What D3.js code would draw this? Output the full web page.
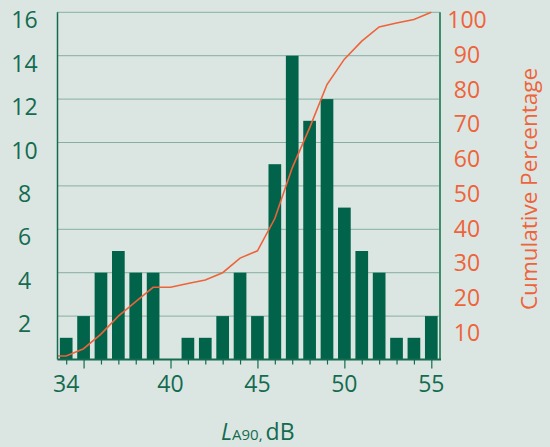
<!DOCTYPE html>
<html>
<head>
<meta charset="utf-8">
<script src="https://cdn.jsdelivr.net/npm/d3@7/dist/d3.min.js"></script>
<style>
  html, body { margin: 0; padding: 0; background: #dbe6e2; }
  svg { display: block; }
  text { font-family: "Open Sans", "Noto Sans", sans-serif; }
</style>
</head>
<body>
<svg id="chart" width="550" height="447"></svg>
<script>
// Noise level distribution: number of samples per LA90 value (dB)
const levels = [34, 35, 36, 37, 38, 39, 40, 41, 42, 43, 44, 45, 46, 47, 48, 49, 50, 51, 52, 53, 54, 55];
const counts = [1, 2, 4, 5, 4, 4, 0, 1, 1, 2, 4, 2, 9, 14, 11, 12, 7, 5, 4, 1, 1, 2];
// Cumulative percentage of samples up to each level
const cumulative = [1.0, 3.1, 7.3, 12.5, 16.7, 20.8, 20.8, 21.9, 22.9, 25.0, 29.2, 31.3, 40.6, 55.2, 66.7, 79.2, 86.5, 91.7, 95.8, 96.9, 97.9, 100];

const countTicks = [2, 4, 6, 8, 10, 12, 14, 16];
const pctTicks = [10, 20, 30, 40, 50, 60, 70, 80, 90, 100];
const levelTicks = [34, 40, 45, 50, 55];
const majorTicks = [35, 40, 45, 50, 55];

const green = "#146b4f";
const barGreen = "#00634a";
const orange = "#ef633a";

const svg = d3.select("#chart");
const plotLeft = 57.5, plotRight = 440, plotTop = 12.3, plotBottom = 359.5;

const x = d3.scaleLinear().domain([33.5, 55.5]).range([plotLeft, plotRight]);
const yCount = d3.scaleLinear().domain([0, 16]).range([plotBottom, plotTop]);
const yPct = d3.scaleLinear().domain([0, 100]).range([plotBottom, plotTop]);

// dotted gridlines
svg.append("g")
  .selectAll("line")
  .data(countTicks)
  .join("line")
  .attr("x1", plotLeft).attr("x2", plotRight)
  .attr("y1", d => yCount(d)).attr("y2", d => yCount(d))
  .attr("stroke", "#2f7a5e")
  .attr("stroke-width", 1)
  .attr("stroke-dasharray", "1,1");

// bars
const barW = (x(1) - x(0)) * 0.73;
svg.append("g")
  .selectAll("rect")
  .data(levels.map((l, i) => ({ l, c: counts[i] })).filter(d => d.c > 0))
  .join("rect")
  .attr("x", d => x(d.l) - barW / 2)
  .attr("width", barW)
  .attr("y", d => yCount(d.c))
  .attr("height", d => yCount(0) - yCount(d.c))
  .attr("fill", barGreen);

// cumulative percentage line
const linePts = [[33.5, cumulative[0]]].concat(levels.map((l, i) => [l, cumulative[i]]));
svg.append("path")
  .datum(linePts)
  .attr("d", d3.line().x(d => x(d[0])).y(d => yPct(d[1])))
  .attr("fill", "none")
  .attr("stroke", orange)
  .attr("stroke-width", 1.6);

// left axis
svg.append("line")
  .attr("x1", plotLeft).attr("x2", plotLeft).attr("y1", plotTop).attr("y2", plotBottom)
  .attr("stroke", green).attr("stroke-width", 1.5);
svg.append("g")
  .selectAll("text")
  .data(countTicks)
  .join("text")
  .attr("x", 24.5)
  .attr("y", d => yCount(d) + 16)
  .attr("text-anchor", "middle")
  .attr("font-size", 23)
  .attr("fill", green)
  .text(d => d);

// right axis
svg.append("line")
  .attr("x1", plotRight).attr("x2", plotRight).attr("y1", plotTop).attr("y2", plotBottom)
  .attr("stroke", "#3f8c6e").attr("stroke-width", 2);
svg.append("g")
  .selectAll("text")
  .data(pctTicks)
  .join("text")
  .attr("x", 467)
  .attr("y", d => yPct(d) + 16)
  .attr("text-anchor", "middle")
  .attr("font-size", 23)
  .attr("fill", orange)
  .text(d => d);

svg.append("text")
  .attr("transform", "translate(537,189) rotate(-90)")
  .attr("text-anchor", "middle")
  .attr("font-size", 22.5)
  .attr("fill", orange)
  .text("Cumulative Percentage");

// bottom axis
const xAxis = d3.axisBottom(x)
  .tickValues(levels)
  .tickSize(5)
  .tickFormat("");
const gx = svg.append("g")
  .attr("transform", `translate(0,${plotBottom})`)
  .call(xAxis);
gx.select(".domain").remove();
gx.selectAll(".tick line")
  .attr("stroke", green)
  .attr("stroke-width", 1.2)
  .attr("y2", d => majorTicks.includes(d) ? 9 : 5);
svg.append("line")
  .attr("x1", plotLeft).attr("x2", plotRight + 1).attr("y1", plotBottom).attr("y2", plotBottom)
  .attr("stroke", green).attr("stroke-width", 2);

svg.append("g")
  .selectAll("text")
  .data(levelTicks)
  .join("text")
  .attr("x", d => x(d))
  .attr("y", 392)
  .attr("text-anchor", "middle")
  .attr("font-size", 23)
  .attr("fill", green)
  .text(d => d);

// x-axis title: L_A90, dB
const title = svg.append("text")
  .attr("x", 221)
  .attr("y", 440)
  .attr("font-size", 23)
  .attr("fill", green);
title.append("tspan").attr("font-style", "italic").text("L");
title.append("tspan").attr("font-size", 15).text("A90,");
title.append("tspan").attr("dx", 3).text("dB");
</script>
</body>
</html>
